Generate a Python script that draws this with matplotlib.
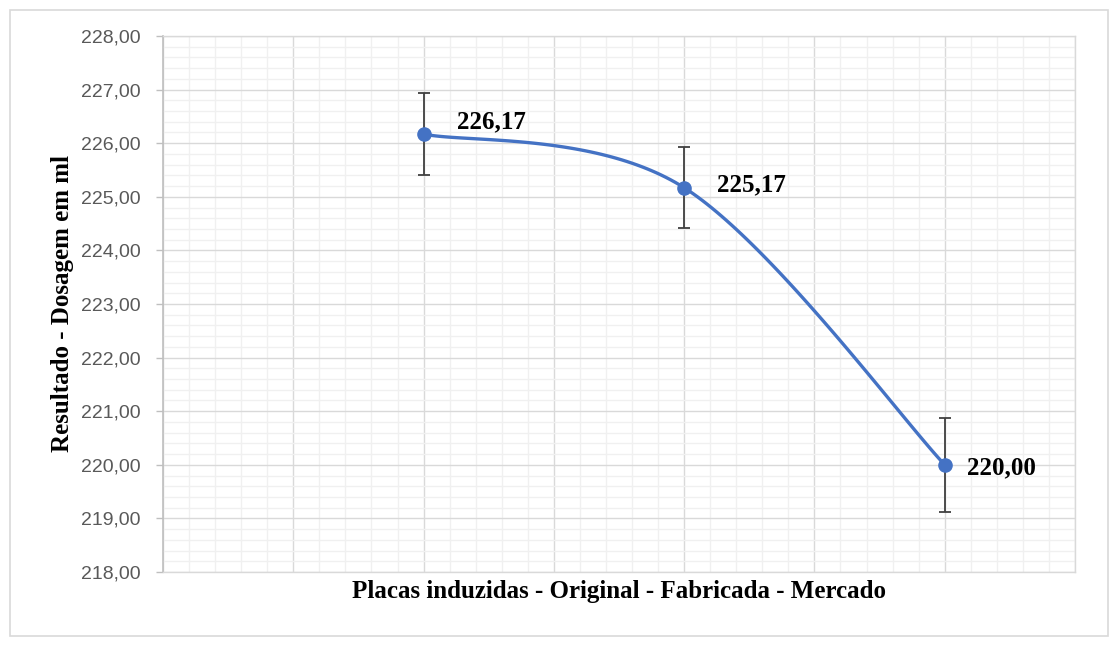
import numpy as np
import matplotlib.pyplot as plt
from matplotlib.ticker import MultipleLocator, FuncFormatter
from matplotlib.patches import Rectangle

# data
positions = [1, 2, 3]
values = [226.17, 225.17, 220.00]
errors = [0.76, 0.75, 0.88]
value_labels = ['226,17', '225,17', '220,00']
label_offsets = [(24, 9), (24, 2), (16, -2)]  # points, right/up of each marker

LINE_BLUE = '#4472C4'
GRID_MAJOR = '#d9d9d9'
GRID_MINOR = '#f0f0f0'
TEXT_GREY = '#595959'


def excel_smooth(xs, ys, n=60):
    """Bezier smoothing similar to Excel's 'smoothed line'."""
    pts = np.column_stack([xs, ys]).astype(float)
    out = []
    for i in range(len(pts) - 1):
        p0 = pts[max(i - 1, 0)]
        p1 = pts[i]
        p2 = pts[i + 1]
        p3 = pts[min(i + 2, len(pts) - 1)]
        c1 = p1 + (p2 - p0) / 6
        c2 = p2 - (p3 - p1) / 6
        t = np.linspace(0, 1, n)[:, None]
        seg = ((1 - t) ** 3 * p1 + 3 * (1 - t) ** 2 * t * c1
               + 3 * (1 - t) * t ** 2 * c2 + t ** 3 * p2)
        out.append(seg if i == 0 else seg[1:])
    curve = np.vstack(out)
    return curve[:, 0], curve[:, 1]


fig = plt.figure(figsize=(11.19, 6.47), dpi=100, facecolor='white')
ax = fig.add_axes([163 / 1119, 75 / 647, 912 / 1119, 536 / 647])

# outer chart border
fig.patches.append(Rectangle((10 / 1119, 11 / 647), 1098 / 1119, 626 / 647,
                             transform=fig.transFigure, fill=False,
                             edgecolor=GRID_MAJOR, linewidth=1.2))

ax.set_xlim(0, 3.5)
ax.set_ylim(218, 228)
ax.yaxis.set_major_locator(MultipleLocator(1))
ax.yaxis.set_minor_locator(MultipleLocator(0.2))
ax.xaxis.set_major_locator(MultipleLocator(0.5))
ax.xaxis.set_minor_locator(MultipleLocator(0.1))
ax.yaxis.set_major_formatter(FuncFormatter(lambda v, p: f'{v:.2f}'.replace('.', ',')))

ax.grid(which='minor', color=GRID_MINOR, linewidth=1.0, zorder=0)
ax.grid(which='major', color=GRID_MAJOR, linewidth=1.0, zorder=0)
ax.set_axisbelow(True)

for side in ['top', 'right', 'bottom']:
    ax.spines[side].set_color(GRID_MAJOR)
    ax.spines[side].set_linewidth(1.0)
ax.spines['left'].set_color('#bfbfbf')
ax.spines['left'].set_linewidth(1.2)

ax.tick_params(axis='x', which='both', length=0, labelbottom=False)
ax.tick_params(axis='y', which='major', length=5, color='#bfbfbf', width=1.0,
               labelsize=14, labelcolor=TEXT_GREY, pad=11)
ax.tick_params(axis='y', which='minor', length=0)
for lbl in ax.get_yticklabels():
    lbl.set_family('Liberation Sans')

sx, sy = excel_smooth(positions, values)
ax.plot(sx, sy, color=LINE_BLUE, linewidth=2.4, zorder=3, solid_capstyle='round')
ax.errorbar(positions, values, yerr=errors, fmt='none', ecolor='#404040',
            elinewidth=1.3, capsize=4.3, capthick=1.3, zorder=4)
ax.plot(positions, values, 'o', color=LINE_BLUE, markersize=9.5, zorder=5)

for x, y, txt, off in zip(positions, values, value_labels, label_offsets):
    ax.annotate(txt, (x, y), xytext=off, textcoords='offset points',
                ha='left', va='center', fontsize=18, fontweight='bold',
                family='Liberation Serif', color='black', zorder=6)

ax.set_xlabel('Placas induzidas - Original - Fabricada - Mercado',
              fontsize=18, fontweight='bold', family='Liberation Serif', labelpad=6)
ax.set_ylabel('Resultado - Dosagem em ml',
              fontsize=18, fontweight='bold', family='Liberation Serif', labelpad=5)

plt.savefig('out.png', dpi=100, facecolor='white')
plt.close()
